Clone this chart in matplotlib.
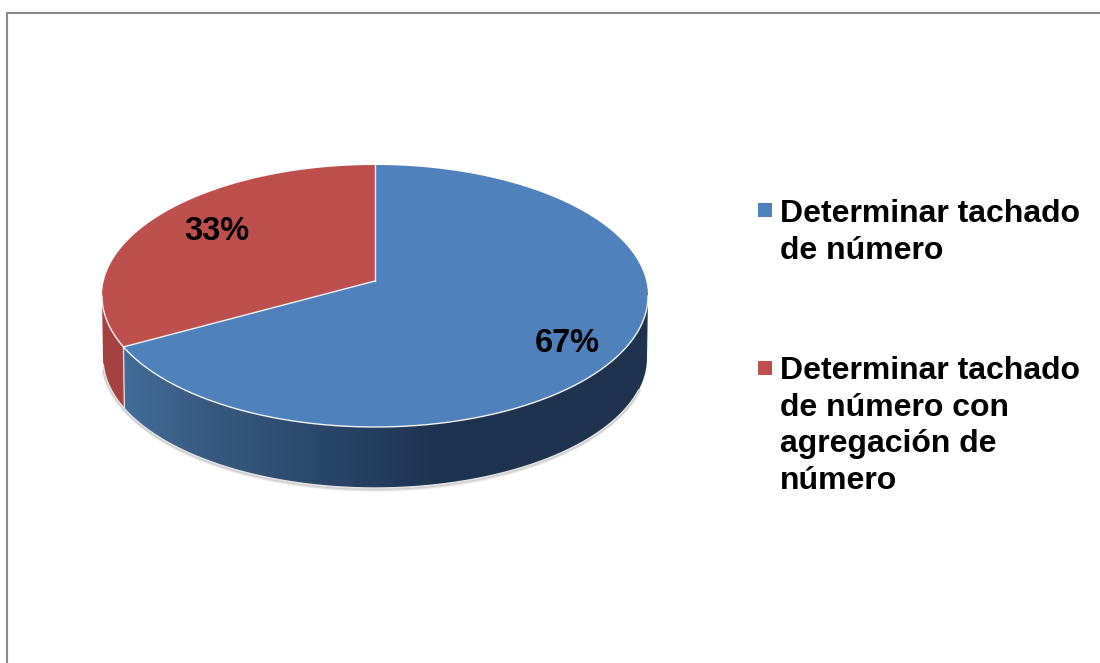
import numpy as np
import matplotlib
matplotlib.use('Agg')
import matplotlib.pyplot as plt
from matplotlib.colors import LinearSegmentedColormap
from matplotlib.patches import Polygon, Rectangle

plt.rcParams['font.family'] = ['Liberation Sans', 'DejaVu Sans']

# data
labels = ['Determinar tachado\nde número',
          'Determinar tachado\nde número con\nagregación de\nnúmero']
values = [67, 33]
colors = ['#4f81bd', '#bd4f4c']
side_red = '#a5423f'
side_blue = ['#44709f', '#38597f', '#2b4768', '#1e3551', '#1d334e', '#1d334e']

# pie geometry in image pixels
cx, cy, a, b = 375, 296, 273, 131
cy2, a2, b2 = 358, 272, 130
k = -0.1145   # perspective, pulls the centre of the pie up


def top_point(theta):
    # theta is clockwise from 12 o'clock, a circle seen in perspective
    X = np.sin(theta)
    Y = -np.cos(theta)
    d = 1 + k * Y
    return cx + a * X * np.sqrt(1 - k * k) / d, cy + b * (Y + k) / d


fig = plt.figure(figsize=(11, 6.63), dpi=100)
ax = fig.add_axes([0, 0, 1, 1])
ax.set_xlim(0, 1100)
ax.set_ylim(663, 0)
ax.axis('off')

# chart border, only top and left are in the crop
ax.plot([7.2, 7.2, 1100], [663, 13, 13], color='#8a8a8a', lw=1.5, zorder=1)

fractions = np.array(values) / sum(values)
edges = np.cumsum(np.r_[0, fractions]) * 2 * np.pi

# where the slices meet on the front edge
bx, by = top_point(edges[1])
t_b = np.arctan2((by - cy) / b, (bx - cx) / a)


def wall(t0, t1):
    t = np.linspace(t0, t1, 200)
    upper = np.c_[cx + a * np.cos(t), cy + b * np.sin(t)]
    lower = np.c_[cx + a2 * np.cos(t), cy2 + b2 * np.sin(t)]
    return np.vstack([upper, lower[::-1]])


# soft shadow under the pie
t = np.linspace(0.25, np.pi - 0.1, 300)
for off, alpha in [(3.0, 0.06), (2.0, 0.12), (1.0, 0.2)]:
    ax.plot(cx + (a2 + off * 0.6) * np.cos(t), cy2 + (b2 + off) * np.sin(t),
            color='#606060', alpha=alpha, lw=1.5, zorder=2)

# blue side with its horizontal gradient
cmap = LinearSegmentedColormap.from_list('side', side_blue)
blue_wall = Polygon(wall(0, t_b), closed=True, transform=ax.transData, fc='none', ec='none')
ax.add_patch(blue_wall)
grad = np.linspace(0, 1, 512).reshape(1, -1)
im = ax.imshow(grad, cmap=cmap, extent=(cx - a, cx + a, 500, 290), aspect='auto', zorder=3)
im.set_clip_path(blue_wall)
ax.set_xlim(0, 1100)
ax.set_ylim(663, 0)

# red side
ax.add_patch(Polygon(wall(t_b, np.pi), closed=True, fc=side_red, ec='none', zorder=3))

# light rim around the sides
t = np.linspace(0.25, np.pi - 0.05, 300)
ax.plot(cx + a2 * np.cos(t), cy2 + b2 * np.sin(t), color='#e4e4e4', lw=1, zorder=4)
ax.plot([bx, cx + a2 * np.cos(t_b)], [by, cy2 + b2 * np.sin(t_b)], color='#e8e8e8', lw=0.9, zorder=4)

# top of the pie
centre = (cx, cy + b * k)
for i in range(len(values)):
    th = np.linspace(edges[i], edges[i + 1], 300)
    px, py = top_point(th)
    pts = np.vstack([[centre], np.c_[px, py]])
    ax.add_patch(Polygon(pts, closed=True, fc=colors[i], ec='none', zorder=5))

# white lines between the slices and along the front edge
for e in edges[:2]:
    px, py = top_point(e)
    ax.plot([centre[0], px], [centre[1], py], color='#f2f2f2', lw=1.0, zorder=5.5)
t = np.linspace(0.0, np.pi, 300)
ax.plot(cx + a * np.cos(t), cy + b * np.sin(t), color='#f2f2f2', lw=1.0, zorder=5.5)

# data labels
ax.text(567, 344, f'{values[0]}%', fontsize=23.5, fontweight='bold', color='black',
        ha='center', va='center', zorder=6)
ax.text(217, 232, f'{values[1]}%', fontsize=23.5, fontweight='bold', color='black',
        ha='center', va='center', zorder=6)

# legend
legend_y = [199, 356]
swatch_y = [203, 361]
for lab, col, ty, sy in zip(labels, colors, legend_y, swatch_y):
    ax.add_patch(Rectangle((758, sy), 14, 14, fc=col, ec='none', zorder=6))
    ax.text(780, ty, lab, fontsize=23, fontweight='bold', color='black',
            ha='left', va='top', linespacing=1.29, zorder=6)

fig.savefig('out.png', dpi=100)
